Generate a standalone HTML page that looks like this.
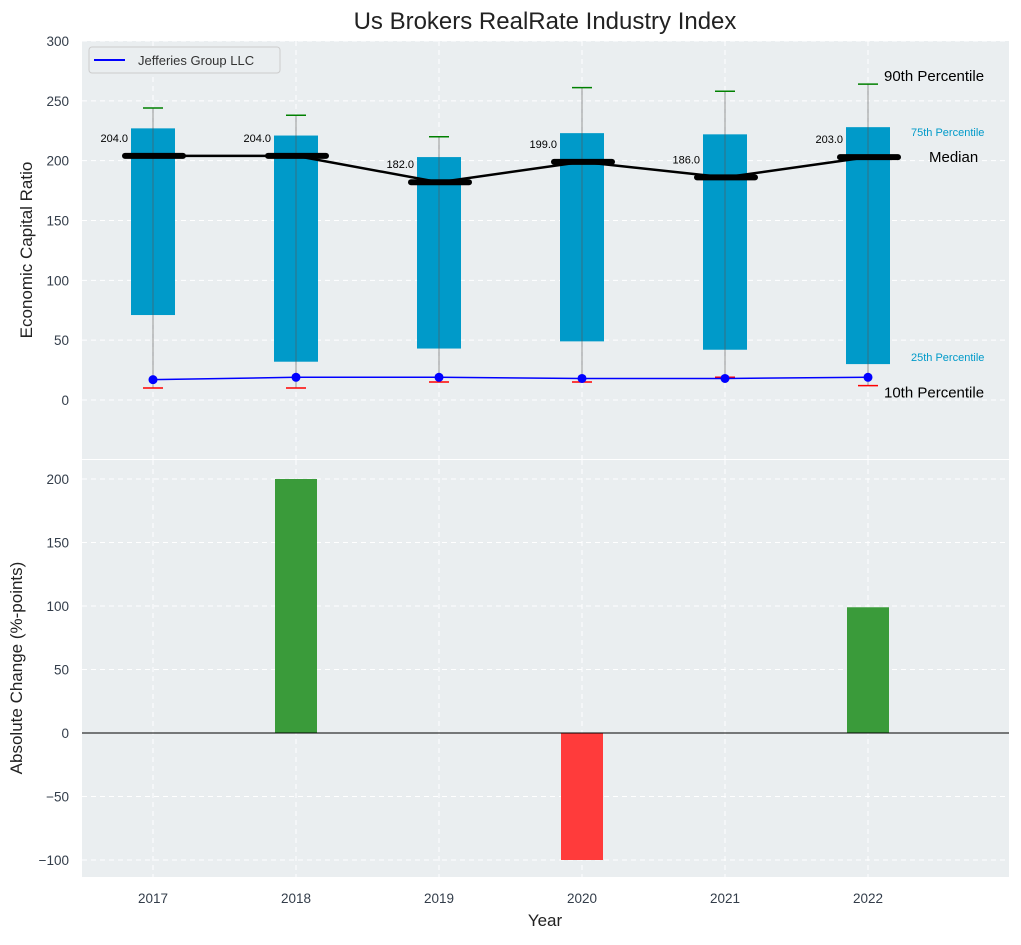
<!DOCTYPE html>
<html><head><meta charset="utf-8"><style>
body{margin:0;background:#fff;font-family:"Liberation Sans",sans-serif}
svg text{font-family:"Liberation Sans",sans-serif}
</style></head><body>
<svg id="chart" width="1021" height="940" xmlns="http://www.w3.org/2000/svg"></svg>
<script>
const years=[2017,2018,2019,2020,2021,2022];
const p10=[10,10,15,15,19,12];
const p25=[71,32,43,49,42,30];
const p50=[204,204,182,199,186,203];
const p75=[227,221,203,223,222,228];
const p90=[244,238,220,261,258,264];
const jeff=[17,19,19,18,18,19];
const change=[0,200,0,-100,0,99];
const topTicks=[0,50,100,150,200,250,300];
const botTicks=[-100,-50,0,50,100,150,200];

const NS="http://www.w3.org/2000/svg";
const svg=document.getElementById('chart');
function el(t,a,txt){const e=document.createElementNS(NS,t);for(const k in a)e.setAttribute(k,a[k]);if(txt!==undefined)e.textContent=txt;svg.appendChild(e);return e;}
const L=82,R=1009;
const x=v=>153+(v-2017)*143;
const T0=41,T1=459,yT=v=>400-v*(359/300);
const B0=460,B1=877,yB=v=>733-v*1.27;

let e=el('rect',{x:L,y:T0,width:R-L,height:T1-T0,fill:'#eaeef0'});

e=el('rect',{x:L,y:B0,width:R-L,height:B1-B0,fill:'#eaeef0'});


years.forEach(yr=>{
 e=el('line',{x1:x(yr),x2:x(yr),y1:T0,y2:T1,stroke:'#fff','stroke-dasharray':'5,4','stroke-width':1});
 
 e=el('line',{x1:x(yr),x2:x(yr),y1:B0,y2:B1,stroke:'#fff','stroke-dasharray':'5,4','stroke-width':1});
 
 e=el('text',{x:x(yr),y:903,'text-anchor':'middle','font-size':13.5,fill:'#333d4a'},yr);
 
});
topTicks.forEach(t=>{
 e=el('line',{x1:L,x2:R,y1:yT(t),y2:yT(t),stroke:'#fff','stroke-dasharray':'5,4'});
 
 e=el('text',{x:L-13,y:yT(t)+5,'text-anchor':'end','font-size':13.5,fill:'#333d4a'},t);
 
});
botTicks.forEach(t=>{
 e=el('line',{x1:L,x2:R,y1:yB(t),y2:yB(t),stroke:'#fff','stroke-dasharray':'5,4'});
 
 e=el('text',{x:L-13,y:yB(t)+5,'text-anchor':'end','font-size':13.5,fill:'#333d4a'},t<0?'\u2212'+(-t):t);
 
});

const half=22;
years.forEach((yr,i)=>{
 const cx=x(yr);
 e=el('rect',{x:cx-half,y:yT(p75[i]),width:2*half,height:yT(p25[i])-yT(p75[i]),fill:'#009ac9'});
 
 e=el('line',{x1:cx,x2:cx,y1:yT(p90[i]),y2:yT(p10[i]),stroke:'#555','stroke-opacity':0.6,'stroke-width':1});
 
 e=el('line',{x1:cx-10,x2:cx+10,y1:yT(p90[i]),y2:yT(p90[i]),stroke:'green','stroke-width':1.5});
 
 e=el('line',{x1:cx-10,x2:cx+10,y1:yT(p10[i]),y2:yT(p10[i]),stroke:'red','stroke-width':1.5});
 
});
e=el('polyline',{points:years.map((yr,i)=>x(yr)+','+yT(p50[i])).join(' '),fill:'none',stroke:'#000','stroke-width':2.5});

years.forEach((yr,i)=>{
 const cx=x(yr);
 e=el('line',{x1:cx-28,x2:cx+30,y1:yT(p50[i]),y2:yT(p50[i]),stroke:'#000','stroke-width':6,'stroke-linecap':'round'});
 
 e=el('text',{x:cx-25,y:yT(p50[i])-14,'text-anchor':'end','font-size':11,fill:'#000'},p50[i].toFixed(1));
 
});
e=el('polyline',{points:years.map((yr,i)=>x(yr)+','+yT(jeff[i])).join(' '),fill:'none',stroke:'blue','stroke-width':1.5});

years.forEach((yr,i)=>{
 e=el('circle',{cx:x(yr),cy:yT(jeff[i]),r:4.5,fill:'blue'});
 
});
const lx=x(2022);
const ann=[[p90[5],'90th Percentile',15,'#000',16,-3],[p75[5],'75th Percentile',11,'#009ac9',43,9],[p50[5],'Median',15,'#000',61,5],[p25[5],'25th Percentile',11,'#009ac9',43,-3],[p10[5],'10th Percentile',15,'#000',16,12]];
ann.forEach(a=>{
 e=el('text',{x:lx+a[4],y:yT(a[0])+a[5],'font-size':a[2],fill:a[3]},a[1]);
 
});
e=el('rect',{x:89,y:47,width:191,height:26,rx:3,fill:'#eaeef0',stroke:'#ccc'});

e=el('line',{x1:94,x2:125,y1:60,y2:60,stroke:'blue','stroke-width':2});

e=el('text',{x:138,y:65,'font-size':13,fill:'#333'},'Jefferies Group LLC');


years.forEach((yr,i)=>{
 const v=change[i]; if(v===0)return;
 const cx=x(yr);
 e=el('rect',{x:cx-21,y:Math.min(yB(v),yB(0)),width:42,height:Math.abs(yB(v)-yB(0)),fill:v>0?'#3a9b3a':'#ff3b3b'});
 
});
e=el('line',{x1:L,x2:R,y1:yB(0),y2:yB(0),stroke:'#000','stroke-width':1});


e=el('text',{x:545,y:29,'text-anchor':'middle','font-size':24,fill:'#222'},'Us Brokers RealRate Industry Index');

e=el('text',{x:0,y:0,'text-anchor':'middle','font-size':17,fill:'#222',transform:'translate(32,250) rotate(-90)'},'Economic Capital Ratio');

e=el('text',{x:0,y:0,'text-anchor':'middle','font-size':17,fill:'#222',transform:'translate(22,668) rotate(-90)'},'Absolute Change (%-points)');

e=el('text',{x:545,y:926,'text-anchor':'middle','font-size':17,fill:'#222'},'Year');

</script>
</body></html>
